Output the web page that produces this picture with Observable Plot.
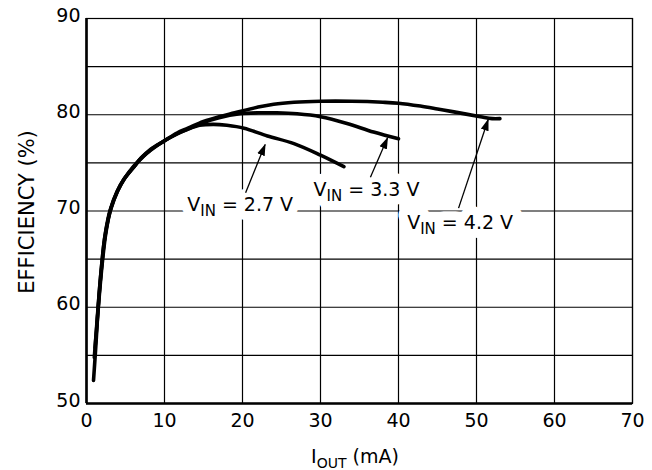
<!DOCTYPE html>
<html>
<head>
<meta charset="utf-8">
<script src="https://cdn.jsdelivr.net/npm/d3@7"></script>
<script src="https://cdn.jsdelivr.net/npm/@observablehq/plot@0.6"></script>
<style>
  html, body { margin: 0; padding: 0; background: white; }
  #chart { width: 652px; height: 470px; }
</style>
</head>
<body>
<div id="chart"></div>
<script>
// ---- data ----
const xTicks = [0, 10, 20, 30, 40, 50, 60, 70];
const yTicks = [50, 60, 70, 80, 90];
const yGrid = [50, 55, 60, 65, 70, 75, 80, 85, 90];

const vinSeries = ["2.7 V", "3.3 V", "4.2 V"];

const iout27 = [1.1, 1.4, 1.7, 2.1, 2.5, 3.1, 4.0, 4.9, 6.0, 7.2, 8.3, 10.0, 11.6, 13.0, 14.5, 16.3, 18.0, 20.2, 23.2, 26.6, 30.0, 33.0];
const eff27  = [55.8, 58.8, 61.8, 65.2, 67.8, 70.2, 72.1, 73.4, 74.6, 75.6, 76.4, 77.3, 78.0, 78.5, 78.9, 79.0, 78.9, 78.6, 77.8, 77.0, 75.8, 74.6];

const iout33 = [1.0, 1.3, 1.6, 2.0, 2.4, 3.0, 3.9, 4.8, 6.0, 7.0, 8.2, 10.0, 11.6, 13.0, 15.0, 17.0, 19.7, 22.0, 24.4, 27.0, 30.0, 33.4, 36.8, 40.0];
const eff33  = [54.8, 58.0, 61.2, 64.8, 67.6, 70.0, 72.0, 73.3, 74.5, 75.5, 76.3, 77.3, 78.0, 78.5, 79.2, 79.7, 80.1, 80.2, 80.2, 80.1, 79.8, 79.1, 78.2, 77.5];

const iout42 = [0.9, 1.2, 1.5, 1.9, 2.3, 2.8, 3.2, 4.0, 4.8, 6.0, 7.0, 8.2, 10.0, 11.6, 13.0, 15.0, 17.0, 19.0, 22.0, 24.0, 26.6, 30.0, 34.0, 38.0, 40.0, 42.8, 45.0, 47.1, 50.5, 52.0, 53.0];
const eff42  = [52.4, 56.0, 60.0, 64.0, 67.0, 69.2, 70.4, 72.1, 73.3, 74.5, 75.5, 76.4, 77.3, 78.1, 78.6, 79.3, 79.8, 80.2, 80.8, 81.1, 81.3, 81.4, 81.4, 81.3, 81.2, 80.9, 80.6, 80.3, 79.8, 79.6, 79.6];

const labelText = ["V_IN = 2.7 V", "V_IN = 3.3 V", "V_IN = 4.2 V"];
const labelX = [19.7, 35.9, 47.9];
const labelY = [70.6, 72.2, 68.8];

// arrows: from label (x1,y1) to curve (x2,y2)
const arrowX1 = [20.4, 36.4, 47.7];
const arrowY1 = [71.9, 73.5, 70.3];
const arrowX2 = [22.9, 38.6, 51.5];
const arrowY2 = [76.9, 77.6, 79.5];

// ---- build tables ----
const curves = [];
[[iout27, eff27], [iout33, eff33], [iout42, eff42]].forEach(([xs, ys], i) => {
  xs.forEach((x, j) => curves.push({vin: vinSeries[i], x, y: ys[j]}));
});
const labels = labelText.map((t, i) => ({t, x: labelX[i], y: labelY[i]}));
const arrows = arrowX1.map((x1, i) => ({x1, y1: arrowY1[i], x2: arrowX2[i], y2: arrowY2[i]}));

const FONT = "DejaVu Sans, Arial, sans-serif";

const svg = Plot.plot({
  width: 652,
  height: 470,
  marginLeft: 86,
  marginRight: 20,
  marginTop: 18,
  marginBottom: 67,
  x: {domain: [0, 70]},
  y: {domain: [50, 90]},
  style: {fontFamily: FONT, fontSize: "19px", color: "black", background: "white"},
  marks: [
    Plot.gridX(xTicks, {stroke: "black", strokeOpacity: 1, strokeWidth: 1.2}),
    Plot.gridY(yGrid, {stroke: "black", strokeOpacity: 1, strokeWidth: 1.2}),
    Plot.frame({stroke: "black", strokeWidth: 1.2}),
    Plot.ruleX([0], {stroke: "black", strokeWidth: 2.6}),
    Plot.ruleY([50], {stroke: "black", strokeWidth: 2.6}),
    Plot.axisX(xTicks, {tickSize: 0, tickPadding: 10, label: null, fontSize: 19}),
    Plot.axisY(yTicks, {tickSize: 0, tickPadding: 6, label: null, fontSize: 19, dy: -3}),
    // white halo layer
    Plot.text(labels, {x: "x", y: "y", text: "t", fontSize: 19, fill: "white", stroke: "white", strokeWidth: 18, strokeLinejoin: "round"}),
    // text layer
    Plot.text(labels, {x: "x", y: "y", text: "t", fontSize: 19, fill: "black"}),
    Plot.line(curves, {x: "x", y: "y", z: "vin", stroke: "black", strokeWidth: 3.6, curve: "catmull-rom", strokeLinecap: "round", strokeLinejoin: "round"}),
    Plot.link(arrows, {x1: "x1", y1: "y1", x2: "x2", y2: "y2", stroke: "black", strokeWidth: 1.3})
  ]
});

const s = d3.select(svg);

// subscripts in annotation labels
s.selectAll("text").each(function() {
  const t = this.textContent;
  if (t.startsWith("V_IN")) {
    const rest = t.slice(4);
    const el = d3.select(this);
    el.text(null);
    el.append("tspan").text("V");
    el.append("tspan").attr("dy", 5).attr("font-size", 15).text("IN");
    el.append("tspan").attr("dy", -5).text(rest);
  }
});

// arrowheads
const defs = s.insert("defs", ":first-child");
defs.append("marker")
  .attr("id", "ah")
  .attr("viewBox", "0 0 12 10")
  .attr("refX", 11)
  .attr("refY", 5)
  .attr("markerWidth", 12)
  .attr("markerHeight", 10)
  .attr("markerUnits", "userSpaceOnUse")
  .attr("orient", "auto")
  .append("path")
  .attr("d", "M0,1 L12,5 L0,9 Z")
  .attr("fill", "black");
s.selectAll("g[aria-label='link'] path, g[aria-label='link'] line").attr("marker-end", "url(#ah)");

// axis titles
const xl = s.append("text")
  .attr("x", 355).attr("y", 463)
  .attr("text-anchor", "middle")
  .attr("font-family", FONT).attr("font-size", 19).attr("fill", "black");
xl.append("tspan").text("I");
xl.append("tspan").attr("dy", 5).attr("font-size", 14).text("OUT");
xl.append("tspan").attr("dy", -5).text(" (mA)");

s.append("text")
  .attr("transform", "translate(34,212) rotate(-90)")
  .attr("text-anchor", "middle")
  .attr("font-family", FONT).attr("font-size", 21).attr("fill", "black")
  .text("EFFICIENCY (%)");

document.getElementById("chart").appendChild(svg);
</script>
</body>
</html>
